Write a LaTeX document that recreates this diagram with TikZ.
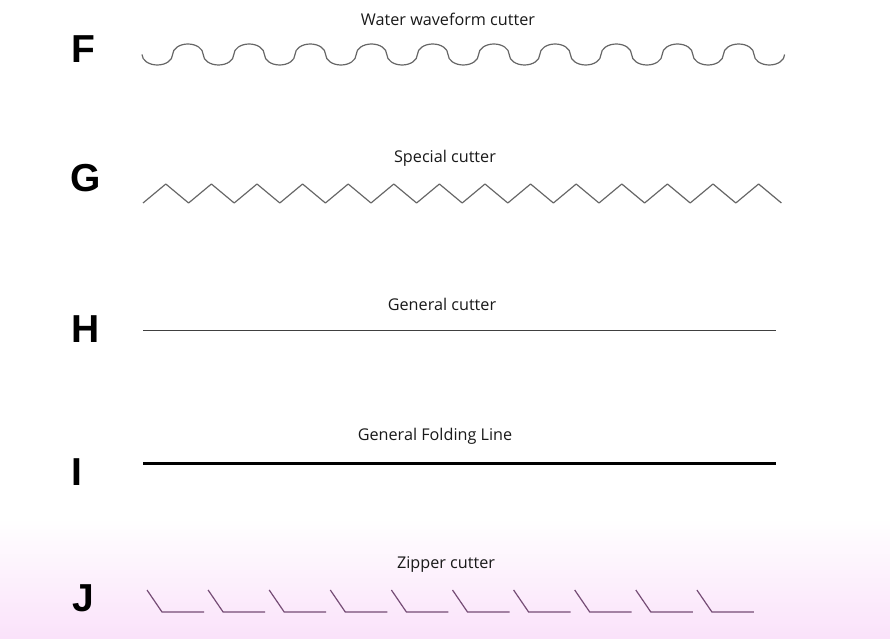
\documentclass[tikz,border=0pt]{standalone}
\usepackage{fontspec}
\setmainfont{Open Sans}
\newfontfamily\letterfont{Liberation Sans}
\begin{document}
\begin{tikzpicture}[
  x=1pt, y=1pt,
  rowletter/.style={inner sep=0pt, font=\letterfont\bfseries\fontsize{39}{39}\selectfont},
  cuttitle/.style={inner sep=0pt, anchor=base, text=black!90, font=\fontsize{16.2}{16.2}\selectfont},
  cutline/.style={draw=black!60, line width=1.2pt, line join=round},
  zipline/.style={draw=black!55!violet!70, line width=1.2pt}
]
  \useasboundingbox (0,0) rectangle (890,638);

  % Fondo rosado en la parte inferior
  \shade[top color=white, bottom color={rgb,255:red,250;green,226;blue,250}] (0,120) rectangle (890,0);

  % Letras de cada fila
  \node[rowletter] (lF) at (83,589) {F};
  \node[rowletter] (lG) at (86,460) {G};
  \node[rowletter] (lH) at (86,309) {H};
  \node[rowletter] (lI) at (77,166) {I};
  \node[rowletter] (lJ) at (83,40) {J};

  % Títulos de las cuchillas
  \node[cuttitle] (tF) at (448,612) {Water waveform cutter};
  \node[cuttitle] (tG) at (445,475) {Special cutter};
  \node[cuttitle] (tH) at (442,328) {General cutter};
  \node[cuttitle] (tI) at (435,198) {General Folding Line};
  \node[cuttitle] (tJ) at (446,70) {Zipper cutter};

  % F: ondas de agua
  \coordinate (wF) at (142,583.5);
  \draw[cutline] (wF)
    \foreach \k in {1,...,10} {
      arc[start angle=180, end angle=360, x radius=15.3, y radius=10.5]
      arc[start angle=180, end angle=0, x radius=15.3, y radius=10.5]
    }
    arc[start angle=180, end angle=360, x radius=15.3, y radius=10.5];

  % G: zigzag
  \coordinate (zG) at (143,435);
  \draw[cutline] (zG)
    \foreach \k in {1,...,14} { -- ++(22.8,19) -- ++(22.8,-19) };

  % H: línea de corte simple
  \coordinate (hA) at (143,308);
  \coordinate (hB) at (776,308);
  \draw[draw=black!75, line width=0.9pt] (hA) -- (hB);

  % I: línea de plegado
  \coordinate (iA) at (143,175);
  \coordinate (iB) at (776,175);
  \draw[draw=black, line width=3pt] (iA) -- (iB);

  % J: cuchilla de cremallera
  \foreach \k in {0,...,9} {
    \coordinate (j\k) at ({147+61.1*\k},48);
    \draw[zipline] (j\k) -- ++(15,-22) -- ++(42,0);
  }
\end{tikzpicture}
\end{document}
